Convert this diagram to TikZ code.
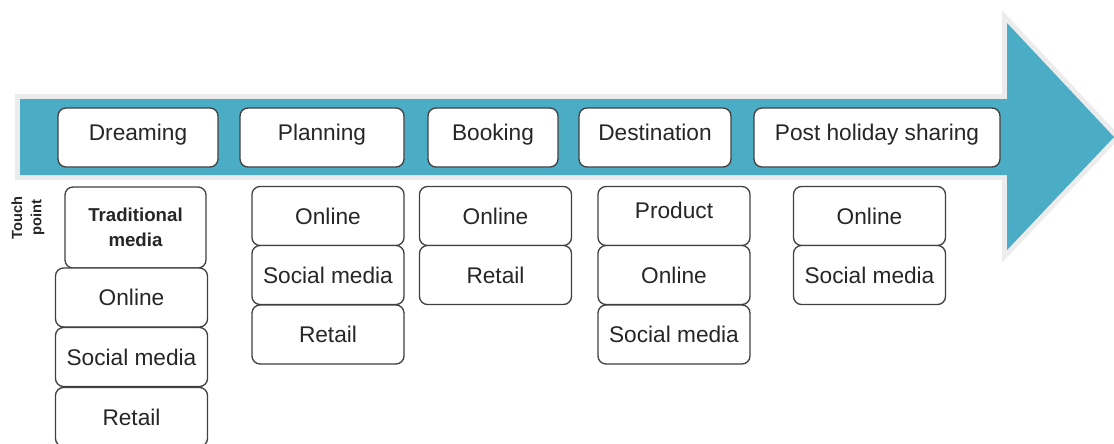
\documentclass[tikz,border=0pt]{standalone}
\usepackage{fontspec}
\setmainfont{Liberation Sans}

\definecolor{arrowblue}{RGB}{75,172,198}
\definecolor{arrowrim}{RGB}{236,236,236}
\definecolor{boxline}{RGB}{64,64,64}

\tikzset{
    card/.style={draw=boxline, line width=1pt, rounded corners=6pt, fill=white, inner sep=0pt, text=black!85},
    phase/.style={card, minimum height=44.25pt, text height=12pt, text depth=8pt},
    touch/.style={card, minimum width=114pt, minimum height=44.25pt, text height=12pt, text depth=0pt}
}

\begin{document}
\begin{tikzpicture}[x=0.75pt, y=-0.75pt, font=\fontsize{17}{20}\selectfont]
    \useasboundingbox (0,0) rectangle (1114,443);

    % Big arrow behind the phases (light rim first, then the fill)
    \draw[arrowrim, line width=7.5pt, line join=miter] (20,99) -- (1007,99) -- (1007,23) -- (1114,137) -- (1007,250) -- (1007,175) -- (20,175) -- cycle;
    \fill[arrowblue] (20,99) -- (1007,99) -- (1007,23) -- (1114,137) -- (1007,250) -- (1007,175) -- (20,175) -- cycle;

    % Phases of the journey
    \node[phase, minimum width=120pt] (dreaming) at (138,137.5) {Dreaming};
    \node[phase, minimum width=123pt] (planning) at (322,137.5) {Planning};
    \node[phase, minimum width=97.5pt] (booking) at (493,137.5) {Booking};
    \node[phase, minimum width=114pt] (destination) at (655,137.5) {Destination};
    \node[phase, minimum width=184.5pt] (sharing) at (877,137.5) {Post holiday sharing};

    % Side label
    \node[rotate=90, align=center, font=\fontsize{11}{14.5}\selectfont\bfseries, text=black!85] (touchpoint) at (28,218) {Touch\\point};

    % Touch points for dreaming
    \node[card, minimum width=105.75pt, minimum height=60.75pt, align=center, font=\fontsize{14}{19}\selectfont\bfseries] (dreamtrad) at (135.5,227.5) {Traditional\\media};
    \node[touch] (dreamonline) at (131.5,297.5) {Online};
    \node[touch] (dreamsocial) at (131.5,357) {Social media};
    \node[touch] (dreamretail) at (131.5,417) {Retail};

    % Touch points for planning
    \node[touch] (planonline) at (328,216) {Online};
    \node[touch] (plansocial) at (328,275) {Social media};
    \node[touch] (planretail) at (328,334.5) {Retail};

    % Touch points for booking
    \node[touch] (bookonline) at (495.5,216) {Online};
    \node[touch] (bookretail) at (495.5,275) {Retail};

    % Touch points at the destination
    \node[touch, text depth=9pt] (destproduct) at (674,216) {Product};
    \node[touch] (destonline) at (674,275) {Online};
    \node[touch] (destsocial) at (674,334.5) {Social media};

    % Touch points for sharing afterwards
    \node[touch] (shareonline) at (869.5,216) {Online};
    \node[touch] (sharesocial) at (869.5,275) {Social media};
\end{tikzpicture}
\end{document}
